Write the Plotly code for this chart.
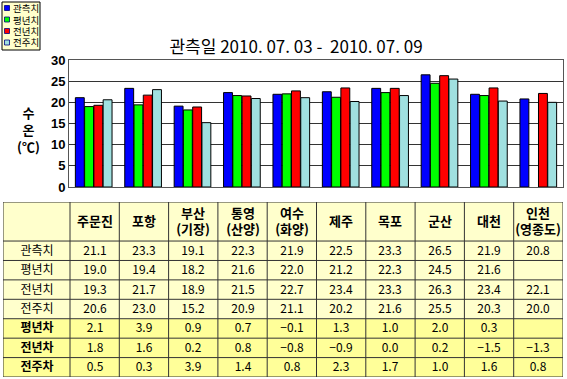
import plotly.graph_objects as go

W, H = 567, 379

stations = ["주문진", "포항", "부산<br>(기장)", "통영<br>(산양)", "여수<br>(화양)",
            "제주", "목포", "군산", "대천", "인천<br>(영종도)"]
series_names = ["관측치", "평년치", "전년치", "전주치"]
obs       = [21.1, 23.3, 19.1, 22.3, 21.9, 22.5, 23.3, 26.5, 21.9, 20.8]
normal    = [19.0, 19.4, 18.2, 21.6, 22.0, 21.2, 22.3, 24.5, 21.6, None]
lastyear  = [19.3, 21.7, 18.9, 21.5, 22.7, 23.4, 23.3, 26.3, 23.4, 22.1]
lastweek  = [20.6, 23.0, 15.2, 20.9, 21.1, 20.2, 21.6, 25.5, 20.3, 20.0]
diff_names = ["평년차", "전년차", "전주차"]
diff_normal   = [2.1, 3.9, 0.9, 0.7, -0.1, 1.3, 1.0, 2.0, 0.3, None]
diff_lastyear = [1.8, 1.6, 0.2, 0.8, -0.8, -0.9, 0.0, 0.2, -1.5, -1.3]
diff_lastweek = [0.5, 0.3, 3.9, 1.4, 0.8, 2.3, 1.7, 1.0, 1.6, 0.8]
y_ticks = [0, 5, 10, 15, 20, 25, 30]
colors = ["#0000FF", "#00FF00", "#FF0000", "#A0E0E0"]
title_text = "관측일 2010.\u00a007.\u00a003\u00a0-\u00a0\u00a02010.\u00a007.\u00a009"

FONT = "Noto Sans CJK KR"
LIGHT = "#FFFFCC"
DARK = "#FFFF99"
GRID = "#333333"


def px_x(p):
    return p / W


def px_y(p):
    return 1 - p / H


fig = go.Figure()
for name, vals, col in zip(series_names, [obs, normal, lastyear, lastweek], colors):
    fig.add_trace(go.Bar(
        x=stations, y=vals, name=name, showlegend=False, hoverinfo="skip",
        marker=dict(color=col, line=dict(color="#000000", width=1)),
        xaxis="x", yaxis="y",
    ))

# ---------------- table (heatmap cells on a second axis pair) ----------------
all_rows = [obs, normal, lastyear, lastweek, diff_normal, diff_lastyear, diff_lastweek]
row_labels = series_names + ["<b>%s</b>" % n for n in diff_names]


def fmt(v):
    if v is None:
        return ""
    return ("%.1f" % v).replace("-", "\u2212")


col_widths = [67] + [49.3] * len(stations)
row_heights = [39] + [19.4] * len(all_rows)
x_edges = [0]
for w in col_widths:
    x_edges.append(x_edges[-1] + w)
y_edges = [0]
for h in row_heights:
    y_edges.append(y_edges[-1] + h)

text = [[""] + ['<span style="font-size:13px"><b>%s</b></span>' % s for s in stations]]
zvals = [[0] * len(col_widths)]
for ri, (lab, r) in enumerate(zip(row_labels, all_rows)):
    text.append([lab] + [fmt(v) for v in r])
    zvals.append([1 if ri >= 4 else 0] * len(col_widths))

fig.add_trace(go.Heatmap(
    x=x_edges, y=y_edges, z=zvals, text=text, texttemplate="%{text}",
    textfont=dict(family=FONT, size=12, color="#000000"),
    colorscale=[[0, LIGHT], [1, DARK]], zmin=0, zmax=1, showscale=False,
    hoverinfo="skip", xaxis="x2", yaxis="y2",
))

shapes = []
for xe in x_edges:
    shapes.append(dict(type="line", xref="x2", yref="y2", x0=xe, x1=xe,
                       y0=y_edges[0], y1=y_edges[-1],
                       line=dict(color=GRID, width=1), layer="above"))
for ye in y_edges:
    shapes.append(dict(type="line", xref="x2", yref="y2", x0=x_edges[0], x1=x_edges[-1],
                       y0=ye, y1=ye, line=dict(color=GRID, width=1), layer="above"))

# ---------------- legend box (top-left) ----------------
annotations = []
shapes.append(dict(type="rect", xref="paper", yref="paper",
                   x0=px_x(2), x1=px_x(40), y0=px_y(2), y1=px_y(50),
                   fillcolor=LIGHT, line=dict(color="#000000", width=1), layer="above"))
leg_y = [8, 19.5, 31, 42.5]
for name, col, yy in zip(series_names, colors, leg_y):
    shapes.append(dict(type="rect", xref="paper", yref="paper",
                       x0=px_x(4.5), x1=px_x(9.5), y0=px_y(yy - 2.5), y1=px_y(yy + 2.5),
                       fillcolor=col, line=dict(color="#000080", width=0.8), layer="above"))
    annotations.append(dict(text=name, x=px_x(10.5), y=px_y(yy), xref="paper", yref="paper",
                            xanchor="left", yanchor="middle", showarrow=False,
                            font=dict(family=FONT, size=9.5, color="#000000")))

annotations.append(dict(text="<b>수<br>온<br>(℃)</b>", x=px_x(28.5), y=px_y(129),
                        xref="paper", yref="paper", showarrow=False,
                        xanchor="center", yanchor="middle",
                        font=dict(family=FONT, size=13, color="#000000")))

fig.update_layout(
    width=W, height=H,
    margin=dict(l=0, r=0, t=0, b=0, autoexpand=False),
    paper_bgcolor="#FFFFFF",
    plot_bgcolor="#FFFFFF",
    barmode="group",
    bargap=0.25,
    bargroupgap=0.04,
    showlegend=False,
    font=dict(family=FONT, color="#000000"),
    title=dict(text=title_text, x=px_x(296), xanchor="center",
               y=px_y(47), yanchor="middle",
               font=dict(family=FONT, size=17, color="#000000")),
    xaxis=dict(domain=[px_x(69), px_x(563)], showticklabels=False, ticks="",
               showgrid=False, showline=True, linecolor="#555555", mirror=True,
               linewidth=1, zeroline=False, fixedrange=True),
    yaxis=dict(domain=[px_y(187), px_y(60)], range=[0, 30], tickvals=y_ticks,
               showgrid=True, gridcolor=GRID, gridwidth=1,
               showline=True, linecolor="#555555", mirror=True, linewidth=1,
               zeroline=False, ticks="", fixedrange=True,
               tickfont=dict(family="Liberation Sans", size=13, color="#000000",
                             weight="bold")),
    xaxis2=dict(domain=[px_x(3), px_x(563)], range=[x_edges[0], x_edges[-1]],
                showticklabels=False, showgrid=False, zeroline=False, ticks="",
                showline=False, anchor="y2", fixedrange=True),
    yaxis2=dict(domain=[px_y(377), px_y(202)], range=[y_edges[-1], y_edges[0]],
                showticklabels=False, showgrid=False, zeroline=False, ticks="",
                showline=False, anchor="x2", fixedrange=True),
    shapes=shapes,
    annotations=annotations,
)

fig.write_html("out.html", config={"displayModeBar": False},
               post_script="document.body.style.margin='0';document.body.style.overflow='hidden';")
